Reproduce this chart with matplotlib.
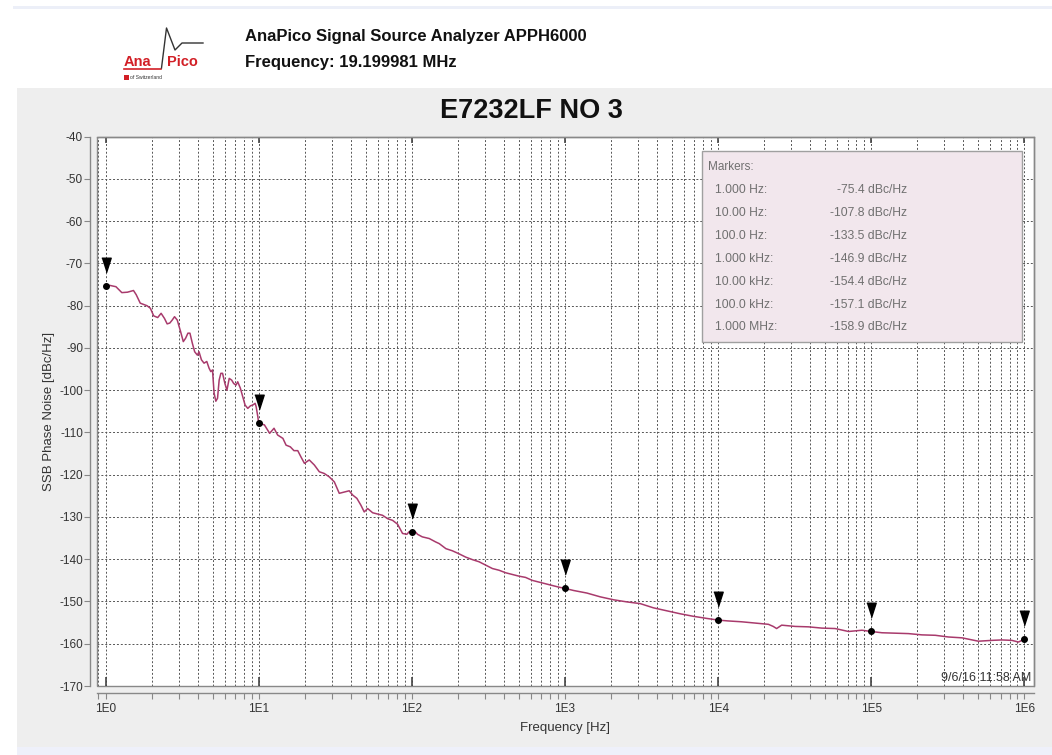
import numpy as np
import matplotlib
matplotlib.use("Agg")
import matplotlib.pyplot as plt
from matplotlib.patches import Rectangle
from matplotlib.lines import Line2D
from matplotlib.transforms import ScaledTranslation

# SSB phase noise trace (offset frequency in Hz, level in dBc/Hz)
freq_hz = [
    1.0, 1.07, 1.17, 1.278, 1.391, 1.523, 1.587, 1.686, 1.866, 1.963,
    2.063, 2.192, 2.307, 2.426, 2.527, 2.629, 2.726, 2.823, 2.941, 3.091,
    3.221, 3.334, 3.453, 3.559, 3.691, 3.822, 3.981, 4.079, 4.23, 4.4,
    4.584, 4.747, 4.871, 4.995, 5.118, 5.252, 5.389, 5.522, 5.665, 5.813,
    6.02, 6.206, 6.425, 6.664, 6.869, 7.112, 7.298, 7.592, 7.873, 8.153,
    8.492, 8.833, 9.159, 9.484, 9.63, 9.88, 10.0,
    10.9, 11.8, 12.6, 13.3, 14.4, 15.1, 16.1, 17.0, 18.0, 18.9,
    19.9, 21.4, 23.1, 24.9, 26.8, 28.9, 31.2, 33.6, 36.2, 39.0,
    41.1, 43.8, 46.5, 48.9, 51.5, 55.5, 59.8, 64.4, 69.5, 74.9,
    80.7, 87.0, 92.8, 96.0, 100.0,
    106, 109, 117, 130, 143, 151, 167, 184, 203, 225,
    249, 275, 304, 336, 371, 410, 453, 500, 553, 611,
    675, 746, 825, 911, 1000,
    1140, 1390, 1700, 2080, 2540, 3100, 3780, 4620, 5640, 6880,
    8410, 10000,
    11600, 14200, 17400, 21300, 22900, 24100, 26000, 31800, 38900, 47600,
    58100, 71000, 86900, 100000,
    117500, 143000, 175000, 214000, 262000, 319000, 391000, 501000, 613000, 712000,
    828000, 914000, 962000, 1000000,
]
noise_dbc = [
    -75.4, -75.2, -75.5, -76.9, -76.8, -76.4, -77.4, -79.4, -80.0, -80.6,
    -82.4, -82.8, -81.8, -83.0, -84.3, -84.1, -83.4, -82.6, -83.4, -86.1,
    -88.5, -87.7, -86.5, -86.5, -88.9, -90.9, -91.7, -90.9, -92.8, -93.6,
    -93.2, -94.8, -95.6, -95.2, -100.7, -102.6, -101.9, -97.6, -96.0, -96.0,
    -98.4, -100.0, -97.2, -97.6, -98.4, -98.8, -98.0, -99.5, -101.5, -103.5,
    -104.3, -103.7, -103.5, -103.1, -103.9, -106.3, -107.8,
    -108.2, -110.2, -109.0, -110.6, -111.4, -113.0, -113.4, -114.3, -114.3, -115.8,
    -117.3, -116.5, -117.7, -119.3, -119.7, -120.5, -121.7, -124.4, -124.1, -123.8,
    -124.8, -125.6, -127.2, -128.8, -128.0, -129.0, -129.3, -129.6, -130.4, -130.8,
    -131.7, -133.9, -134.1, -133.5, -133.5,
    -133.6, -134.1, -134.7, -135.1, -135.9, -136.3, -137.5, -138.0, -138.7, -139.5,
    -140.1, -140.6, -141.4, -142.2, -142.6, -143.2, -143.6, -144.0, -144.3, -145.0,
    -145.4, -145.8, -146.2, -146.6, -146.9,
    -147.4, -148.0, -148.9, -149.6, -150.1, -150.5, -151.5, -152.2, -152.9, -153.5,
    -154.0, -154.4,
    -154.6, -154.8, -155.1, -155.4, -155.9, -156.4, -155.6, -155.9, -156.0, -156.3,
    -156.4, -157.1, -156.8, -157.1,
    -157.4, -157.5, -157.6, -157.9, -158.0, -158.4, -158.6, -159.4, -159.2, -159.1,
    -159.2, -159.6, -159.2, -158.9,
]

marker_freq = [1, 10, 100, 1e3, 1e4, 1e5, 1e6]
marker_dbc = [-75.4, -107.8, -133.5, -146.9, -154.4, -157.1, -158.9]
marker_names = ["1.000 Hz:", "10.00 Hz:", "100.0 Hz:", "1.000 kHz:",
                "10.00 kHz:", "100.0 kHz:", "1.000 MHz:"]

y_ticks = list(range(-170, -39, 10))
x_ticks = [1, 10, 100, 1e3, 1e4, 1e5, 1e6]
x_tick_labels = ["1E0", "1E1", "1E2", "1E3", "1E4", "1E5", "1E6"]

W, H = 1052, 755
plt.rcParams["font.family"] = ["Liberation Sans", "DejaVu Sans"]
fig = plt.figure(figsize=(W / 100, H / 100), dpi=100, facecolor="white")


def fx(x):
    return x / W


def fy(y):
    return 1 - y / H


def box(x0, y0, x1, y1, **kw):
    fig.add_artist(Rectangle((fx(x0), fy(y1)), fx(x1) - fx(x0), fy(y0) - fy(y1),
                             transform=fig.transFigure, **kw))


# page background bands (kept behind the axes)
box(13, 6, W, 9, facecolor="#eceff8", edgecolor="none", zorder=-10)
box(17, 88, W, 747, facecolor="#eeeeee", edgecolor="none", zorder=-10)
box(17, 747, W, H, facecolor="#eef0fa", edgecolor="none", zorder=-10)

# logo
fig.text(fx(124), fy(66), "Ana", color="#d21f26", fontsize=10.5, fontweight="bold", va="baseline")
fig.text(fx(167), fy(66), "Pico", color="#d21f26", fontsize=10.5, fontweight="bold", va="baseline")
fig.add_artist(Line2D([fx(124), fx(161)], [fy(68.5), fy(68.5)], color="#d21f26", lw=1.2))
wave_x = [161.5, 166.5, 175, 182, 203]
wave_y = [68, 28, 50, 43, 43]
fig.add_artist(Line2D([fx(v) for v in wave_x], [fy(v) for v in wave_y], color="#333333", lw=1.0))
box(124, 75, 129, 80, facecolor="#d21f26", edgecolor="none")
fig.text(fx(130.5), fy(77.5), "of Switzerland", fontsize=3.6, color="#333333", va="center")

# header
fig.text(fx(245), fy(36), "AnaPico Signal Source Analyzer APPH6000",
         fontsize=12, fontweight="bold", color="#111111", va="center")
fig.text(fx(245), fy(62), "Frequency: 19.199981 MHz",
         fontsize=12, fontweight="bold", color="#111111", va="center")
fig.text(fx(531), fy(111), "E7232LF NO 3", fontsize=19.5, fontweight="bold",
         color="#111111", ha="center", va="center")

# plot area
left, right, top, bottom = 97, 1034, 136.7, 686
ax = fig.add_axes([fx(left), fy(bottom), fx(right) - fx(left), fy(top) - fy(bottom)])
ax.set_facecolor("white")
ax.set_xscale("log")
ax.set_xlim(0.88, 1.155e6)
ax.set_ylim(-170, -40)

ax.set_yticks(y_ticks)
ax.set_yticklabels([str(v) for v in y_ticks])
ax.set_xticks(x_ticks)
ax.set_xticklabels(x_tick_labels)
ax.xaxis.set_minor_locator(matplotlib.ticker.LogLocator(base=10, subs=np.arange(2, 10)))
ax.xaxis.set_minor_formatter(matplotlib.ticker.NullFormatter())

grid_kw = dict(color="#555555", linestyle=(0, (2, 2)), linewidth=0.7)
ax.grid(True, which="major", axis="both", **grid_kw)
ax.grid(True, which="minor", axis="x", **grid_kw)
ax.set_axisbelow(True)

for s in ["top", "right"]:
    ax.spines[s].set_color("#888888")
    ax.spines[s].set_linewidth(1.0)
for s in ["left", "bottom"]:
    ax.spines[s].set_position(("outward", 5))
    ax.spines[s].set_color("#888888")
    ax.spines[s].set_linewidth(1.0)
ax.add_patch(Rectangle((0, 0), 1, 1, transform=ax.transAxes, fill=False,
                       edgecolor="#888888", lw=1.0, zorder=1.5, clip_on=False))

ax.tick_params(axis="both", which="both", colors="#888888", labelcolor="#333333",
               labelsize=8.5, length=4, width=0.8)
ax.tick_params(axis="x", which="major", pad=3)
ax.tick_params(axis="y", which="major", pad=1)

# short solid ticks inside the frame at each decade
ax.vlines(x_ticks, 0, 0.016, transform=ax.get_xaxis_transform(), color="#444444", lw=1.2, zorder=2)
ax.vlines(x_ticks, 0.988, 1, transform=ax.get_xaxis_transform(), color="#444444", lw=1.2, zorder=2)

ax.plot(freq_hz, noise_dbc, color="#a83a6c", lw=1.1, zorder=3)
ax.plot(marker_freq, marker_dbc, "o", color="black", markersize=4, zorder=4)
tri = [(-4.5, 7), (4.5, 7), (0, -7)]
lift = ax.transData + ScaledTranslation(0, 0.21, fig.dpi_scale_trans)
ax.plot(marker_freq, marker_dbc, linestyle="none", marker=tri, color="black",
        markersize=10.5, transform=lift, zorder=4, clip_on=False)

ax.set_xlabel("Frequency [Hz]", fontsize=9.5, color="#333333", labelpad=5)
ax.set_ylabel("SSB Phase Noise [dBc/Hz]", fontsize=9.5, color="#333333", labelpad=3)

# marker readout box
box(702, 151, 1022, 342, facecolor="#f2e7ed", edgecolor="#a0a0a0", lw=1.0, zorder=5)
fig.text(fx(708), fy(167), "Markers:", fontsize=8.5, color="#707070", va="center", zorder=6)
for i, (name, val) in enumerate(zip(marker_names, marker_dbc)):
    yy = 190 + i * 22.9
    fig.text(fx(715), fy(yy), name, fontsize=8.7, color="#707070", va="center", zorder=6)
    fig.text(fx(907), fy(yy), f"{val:.1f} dBc/Hz", fontsize=8.7, color="#707070",
             ha="right", va="center", zorder=6)

fig.text(fx(1031), fy(678), "9/6/16 11:58 AM", fontsize=9, color="#333333",
         ha="right", va="center")

fig.savefig("out.png", dpi=100, facecolor="white")
